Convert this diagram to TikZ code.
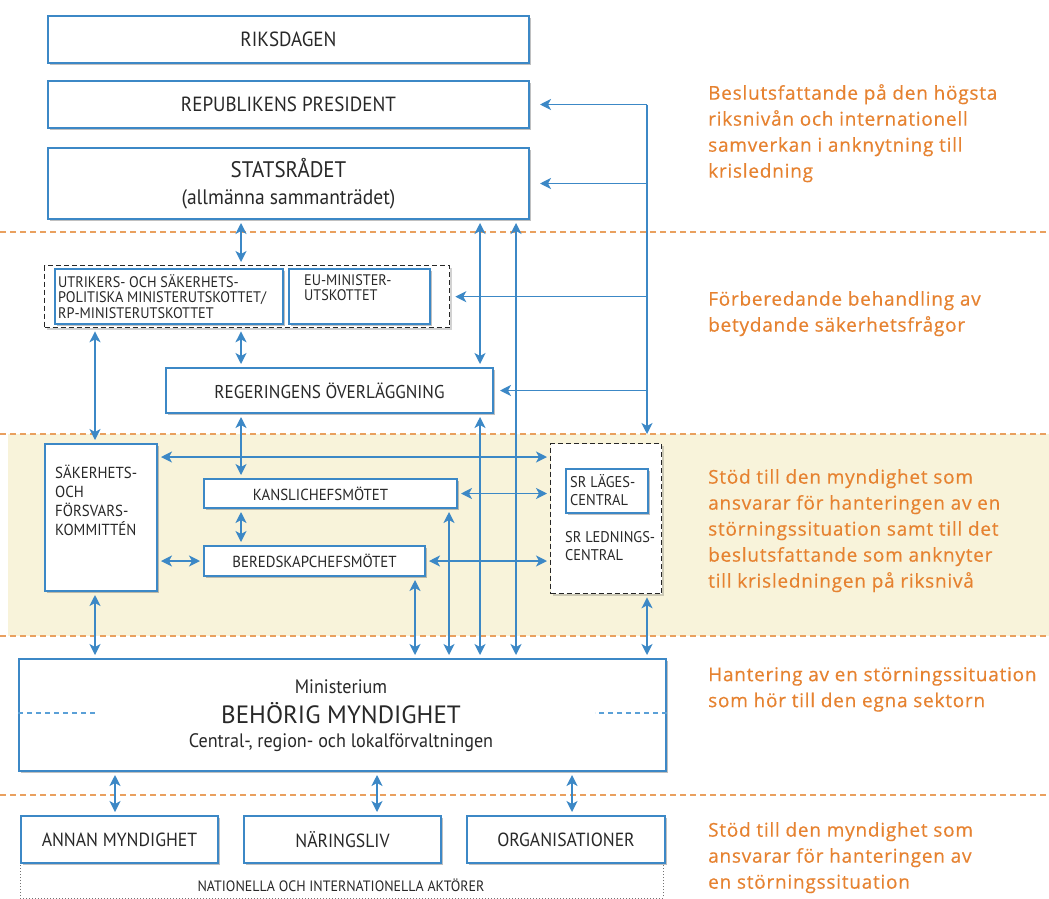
\documentclass[tikz,border=0pt]{standalone}
\usepackage{fontspec}
\setmainfont{PT Sans}
\newfontfamily\bfont[FakeStretch=0.93]{PT Sans}
\newfontfamily\ofont[LetterSpace=4,FakeBold=0.4]{Open Sans}
\usetikzlibrary{arrows.meta,shadows,calc}
\definecolor{bblue}{RGB}{60,136,198}
\definecolor{lblue}{RGB}{90,160,215}
\definecolor{oline}{RGB}{233,160,95}
\definecolor{otext}{RGB}{230,130,48}
\definecolor{band}{RGB}{248,243,218}
\definecolor{btext}{RGB}{40,40,40}
\tikzset{
  box/.style={draw=bblue, line width=2pt, fill=white,
    drop shadow={shadow xshift=2pt, shadow yshift=-2pt, opacity=0.35, fill=black!70},
    inner sep=0pt, anchor=north west, align=center, text=btext,
    font=\bfont\fontsize{20.5}{22}\selectfont},
  sbox/.style={box, font=\bfont\fontsize{16}{18}\selectfont},
  dbox/.style={draw=black!85, line width=1.3pt, dashed, dash pattern=on 5pt off 3pt,
    fill=white, inner sep=0pt, anchor=north west,
    drop shadow={shadow xshift=2pt, shadow yshift=-2pt, opacity=0.25, fill=black!70}},
  lbl/.style={inner sep=0pt, anchor=north west, align=left, text=btext,
    font=\bfont\fontsize{15.3}{15.5}\selectfont},
  otx/.style={inner sep=0pt, anchor=north west, align=left, text=otext,
    font=\ofont\fontsize{19}{26}\selectfont},
  sep/.style={draw=oline, line width=1.2pt, dash pattern=on 6pt off 4pt},
  dbl/.style={draw=bblue, line width=1.4pt,
    {Stealth[length=11pt,width=11pt,inset=3pt]}-{Stealth[length=11pt,width=11pt,inset=3pt]},
    shorten <=3pt, shorten >=3pt},
  one/.style={draw=bblue, line width=1.4pt, -{Stealth[length=11pt,width=11pt,inset=3pt]}},
  ln/.style={draw=bblue, line width=1.4pt}
}
\begin{document}
\begin{tikzpicture}[x=1pt,y=-1pt]
\useasboundingbox (0,0) rectangle (1049,899);
\fill[white] (0,0) rectangle (1049,899);
\fill[band] (8,434) rectangle (1049,636);
% separators
\draw[sep] (0,232) -- (1049,232);
\draw[sep] (0,434) -- (1049,434);
\draw[sep] (0,636) -- (1049,636);
\draw[sep] (0,795) -- (1049,795);

% x positions of connectors
\coordinate (x95) at (95,0);
\coordinate (x115) at (115,0);
\coordinate (x241) at (241,0);
\coordinate (x377) at (377,0);
\coordinate (x415) at (415,0);
\coordinate (x449) at (449,0);
\coordinate (x480) at (480,0);
\coordinate (x516) at (516,0);
\coordinate (x572) at (572,0);
\coordinate (x647) at (647,0);
\coordinate (y457) at (0,457);

% top boxes
\node[box, minimum width=481pt, minimum height=47pt] (riks) at (47,15) {RIKSDAGEN};
\node[box, minimum width=481pt, minimum height=47pt] (pres) at (47,80) {REPUBLIKENS PRESIDENT};
\node[box, minimum width=481pt, minimum height=71pt] (stats) at (47,147)
  {{\fontsize{22.5}{24}\selectfont STATSRÅDET}\\[5pt]{\fontsize{21}{22}\selectfont (allmänna sammanträdet)}};

% ministerial committees
\node[dbox, minimum width=405pt, minimum height=62pt] (grp) at (44,265) {};
\node[sbox, minimum width=228pt, minimum height=55pt] (utr) at (54,268) {};
\node[lbl] (utrt) at (58,274) {UTRIKERS- OCH SÄKERHETS-\\POLITISKA MINISTERUTSKOTTET/\\RP-MINISTERUTSKOTTET};
\node[sbox, minimum width=141pt, minimum height=55pt] (eu) at (288,268) {};
\node[lbl] (eut) at (304,274) {EU-MINISTER-\\UTSKOTTET};

\node[box, minimum width=327pt, minimum height=45pt, font=\bfont\fontsize{18.5}{20}\selectfont] (reg) at (165,367) {REGERINGENS ÖVERLÄGGNING};

% band
\node[box, minimum width=112pt, minimum height=147pt] (sak) at (44,443) {};
\node[lbl, font=\bfont\fontsize{16}{19}\selectfont] (sakt) at (55,465) {SÄKERHETS-\\OCH\\FÖRSVARS-\\KOMMITTÉN};
\node[sbox, minimum width=253pt, minimum height=29pt] (kan) at (203,478) {KANSLICHEFSMÖTET\hspace*{20pt}};
\node[sbox, minimum width=221pt, minimum height=30pt] (ber) at (203,545) {BEREDSKAPCHEFSMÖTET};
\node[dbox, minimum width=111pt, minimum height=150pt] (sr) at (550,443) {};
\node[sbox, minimum width=82pt, minimum height=44pt, line width=1.6pt, drop shadow={opacity=0}] (lag) at (565,468) {};
\node[lbl, font=\bfont\fontsize{15.5}{18}\selectfont] (lagt) at (570,474) {SR LÄGES-\\CENTRAL};
\node[lbl, font=\bfont\fontsize{15.5}{18}\selectfont] (ledt) at (565,531) {SR LEDNINGS-\\CENTRAL};

% behorig myndighet
\node[box, minimum width=647pt, minimum height=112pt] (beh) at (18,658) {};
\node[inner sep=0pt, text=btext, font=\bfont\fontsize{19.5}{21}\selectfont] (min) at (341,687) {Ministerium};
\node[inner sep=0pt, text=btext, font=\fontsize{25}{27}\selectfont] (behn) at (341,713) {BEHÖRIG MYNDIGHET};
\node[inner sep=0pt, text=btext, font=\bfont\fontsize{19.5}{21}\selectfont] (cen) at (341,743) {Central-, region- och lokalförvaltningen};
\draw[lblue, line width=1.2pt, dash pattern=on 5pt off 4pt] (beh.west |- behn) -- ++(77,0);
\draw[lblue, line width=1.2pt, dash pattern=on 5pt off 4pt] (beh.east |- behn) -- ++(-72,0);

% bottom
\draw[black!55, line width=1pt, dotted] (20,862) -- (20,898) -- (663,898) -- (663,862);
\node[box, minimum width=197pt, minimum height=47pt, font=\bfont\fontsize{19}{21}\selectfont] (ann) at (20,815) {ANNAN MYNDIGHET};
\node[box, minimum width=197pt, minimum height=47pt, font=\bfont\fontsize{19}{21}\selectfont] (nar) at (243,815) {NÄRINGSLIV};
\node[box, minimum width=198pt, minimum height=47pt, font=\bfont\fontsize{19}{21}\selectfont] (org) at (466,815) {ORGANISATIONER};
\node[inner sep=0pt, text=btext, font=\bfont\fontsize{15}{16}\selectfont] (nat) at (341,885) {NATIONELLA OCH INTERNATIONELLA AKTÖRER};

% vertical connectors
\draw[dbl] (stats.south -| x241) -- (grp.north -| x241);
\draw[dbl] (grp.south -| x241) -- (reg.north -| x241);
\draw[dbl] (reg.south -| x241) -- (kan.north -| x241);
\draw[dbl] (kan.south -| x241) -- (ber.north -| x241);
\draw[dbl] (grp.south -| x95) -- (sak.north -| x95);
\draw[dbl] (sak.south -| x95) -- (beh.north -| x95);
\draw[dbl] (stats.south -| x480) -- (reg.north -| x480);
\draw[dbl] (reg.south -| x480) -- (beh.north -| x480);
\draw[dbl] (stats.south -| x516) -- (beh.north -| x516);
\draw[dbl] (kan.south -| x449) -- (beh.north -| x449);
\draw[dbl] (ber.south -| x415) -- (beh.north -| x415);
\draw[dbl] (sr.south -| x647) -- (beh.north -| x647);
% horizontal connectors
\draw[dbl] (sak.east |- y457) -- (sr.west |- y457);
\draw[dbl] (kan.east) -- (sr.west |- kan.east);
\draw[dbl] (sak.east |- ber.west) -- (ber.west);
\draw[dbl] (ber.east) -- (sr.west |- ber.east);
% right feed line
\draw[ln] (pres.east -| x647) -- (grp.east -| x647);
\draw[one, shorten >=9pt] (grp.east -| x647) -- (sr.north -| x647);
\draw[one, shorten >=10pt] (pres.east -| x647) -- (pres.east);
\draw[one, shorten >=10pt] (stats.east -| x647) -- (stats.east);
\draw[one, shorten >=5pt] (grp.east -| x647) -- (grp.east);
\draw[one, shorten >=6pt] (reg.east -| x647) -- (reg.east);
% bottom connectors
\draw[dbl] (beh.south -| x115) -- (ann.north -| x115);
\draw[dbl] (beh.south -| x377) -- (nar.north -| x377);
\draw[dbl] (beh.south -| x572) -- (org.north -| x572);

% level descriptions
\node[otx] (o1) at (708,84) {Beslutsfattande på den högsta\\riksnivån och internationell\\samverkan i anknytning till\\krisledning};
\node[otx] (o2) at (708,291) {Förberedande behandling av\\betydande säkerhetsfrågor};
\node[otx] (o3) at (708,469) {Stöd till den myndighet som\\ansvarar för hanteringen av en\\störningssituation samt till det\\beslutsfattande som anknyter\\till krisledningen på riksnivå};
\node[otx] (o4) at (708,667) {Hantering av en störningssituation\\som hör till den egna sektorn};
\node[otx] (o5) at (708,822) {Stöd till den myndighet som\\ansvarar för hanteringen av\\en störningssituation};
\end{tikzpicture}
\end{document}
